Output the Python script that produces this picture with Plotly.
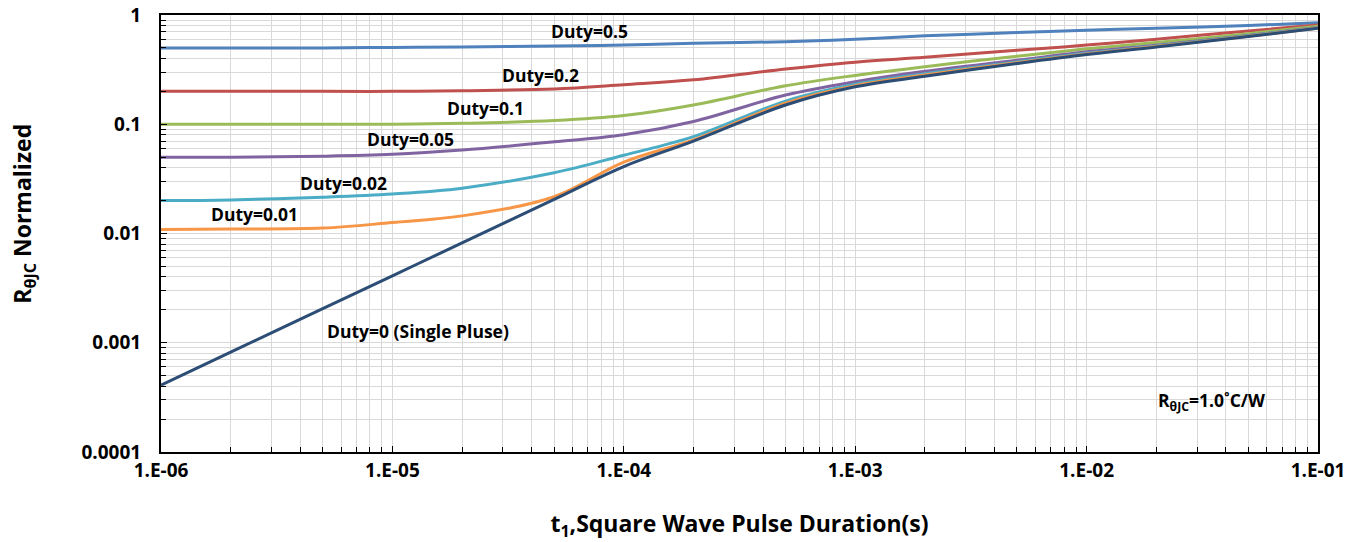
import plotly.graph_objects as go

# Pulse duration grid (s)
t_pulse = [1e-6, 2e-6, 5e-6, 1e-5, 2e-5, 5e-5, 1e-4, 2e-4, 5e-4,
           1e-3, 2e-3, 5e-3, 1e-2, 2e-2, 5e-2, 1e-1]

# Normalized transient thermal impedance per duty cycle
z_d050 = [0.50, 0.50, 0.50, 0.505, 0.51, 0.52, 0.53, 0.55, 0.57,
          0.60, 0.645, 0.69, 0.725, 0.755, 0.80, 0.85]
z_d020 = [0.20, 0.20, 0.20, 0.20, 0.203, 0.21, 0.23, 0.255, 0.32,
          0.37, 0.41, 0.475, 0.53, 0.60, 0.715, 0.81]
z_d010 = [0.10, 0.10, 0.10, 0.10, 0.102, 0.108, 0.12, 0.15, 0.225,
          0.28, 0.336, 0.42, 0.49, 0.56, 0.675, 0.79]
z_d005 = [0.050, 0.050, 0.051, 0.053, 0.058, 0.069, 0.08, 0.106, 0.185,
          0.245, 0.305, 0.385, 0.46, 0.53, 0.65, 0.77]
z_d002 = [0.020, 0.0203, 0.0215, 0.023, 0.026, 0.036, 0.052, 0.077, 0.163,
          0.232, 0.29, 0.372, 0.447, 0.52, 0.645, 0.765]
z_d001 = [0.0109, 0.011, 0.0112, 0.0126, 0.0145, 0.0217, 0.045, 0.072, 0.156,
          0.225, 0.282, 0.366, 0.44, 0.515, 0.64, 0.76]
z_single = [4.1e-4, 8.2e-4, 2.05e-3, 4.1e-3, 8.2e-3, 0.0205, 0.041, 0.07, 0.15,
            0.22, 0.275, 0.36, 0.435, 0.51, 0.637, 0.755]

series = [
    ("Duty=0.5", z_d050, "#4F81BD"),
    ("Duty=0.2", z_d020, "#C0504D"),
    ("Duty=0.1", z_d010, "#9BBB59"),
    ("Duty=0.05", z_d005, "#8064A2"),
    ("Duty=0.02", z_d002, "#4BACC6"),
    ("Duty=0.01", z_d001, "#F79646"),
    ("Duty=0 (Single Pluse)", z_single, "#2C4D75"),
]

# Curve labels: (text, log10 x, log10 y)
labels = [
    ("Duty=0.5", -4.15, -0.146),
    ("Duty=0.2", -4.362, -0.549),
    ("Duty=0.1", -4.596, -0.851),
    ("Duty=0.05", -4.92, -1.135),
    ("Duty=0.02", -5.213, -1.538),
    ("Duty=0.01", -5.598, -1.822),
    ("Duty=0 (Single Pluse)", -4.889, -2.892),
    ("R<sub>θJC</sub>=1.0˚C/W", -1.462, -3.542),
]

x_ticks = [1e-6, 1e-5, 1e-4, 1e-3, 1e-2, 1e-1]
x_ticktext = ["1.E-06", "1.E-05", "1.E-04", "1.E-03", "1.E-02", "1.E-01"]
y_ticks = [1e-4, 1e-3, 1e-2, 1e-1, 1]
y_ticktext = ["0.0001", "0.001", "0.01", "0.1", "1"]

FONT = "Open Sans"
GRID = "#D9D9D9"

fig = go.Figure()
for name, z, color in series:
    fig.add_trace(go.Scatter(
        x=t_pulse, y=z, name=name, mode="lines",
        line=dict(color=color, width=3, shape="spline", smoothing=1.0),
        showlegend=False,
    ))

for text, lx, ly in labels:
    fig.add_annotation(
        x=lx, y=ly, xref="x", yref="y", text=text, showarrow=False,
        font=dict(family=FONT, size=17.5, color="#000000", weight="bold"),
    )

# Vertical axis title, set a little above the plot's mid-height
fig.add_annotation(
    text="R<sub>θJC</sub> Normalized", textangle=-90, showarrow=False,
    xref="paper", yref="paper", x=-0.1185, y=0.545,
    xanchor="center", yanchor="middle",
    font=dict(family=FONT, size=23, color="#000000", weight="bold"),
)

axis_common = dict(
    type="log", automargin=False,
    showline=True, linecolor="#000000", linewidth=2, mirror=True,
    showgrid=True, gridcolor=GRID, gridwidth=1.3,
    ticks="inside", ticklen=6, tickcolor="#000000", tickwidth=1.3,
    tickfont=dict(family=FONT, size=19, color="#000000", weight="bold"),
    zeroline=False,
    minor=dict(dtick="D1", showgrid=True, gridcolor=GRID, gridwidth=1.3,
               ticks="inside", ticklen=5, tickcolor="#000000", tickwidth=1.3),
)

fig.update_xaxes(
    **axis_common,
    range=[-6, -1],
    tickvals=x_ticks, ticktext=x_ticktext,
    ticklabelstandoff=0,
    title=dict(text="t<sub>1</sub>,Square Wave Pulse Duration(s)",
               font=dict(family=FONT, size=23, color="#000000", weight="bold"),
               standoff=35),
)
fig.update_yaxes(
    **axis_common,
    range=[-4, 0],
    tickvals=y_ticks, ticktext=y_ticktext,
    ticklabelstandoff=14,
)

fig.update_layout(
    width=1363, height=542,
    margin=dict(l=161, r=45, t=15, b=90),
    paper_bgcolor="#FFFFFF", plot_bgcolor="#FFFFFF",
)

fig.write_html("out.html", config={"displayModeBar": False})
